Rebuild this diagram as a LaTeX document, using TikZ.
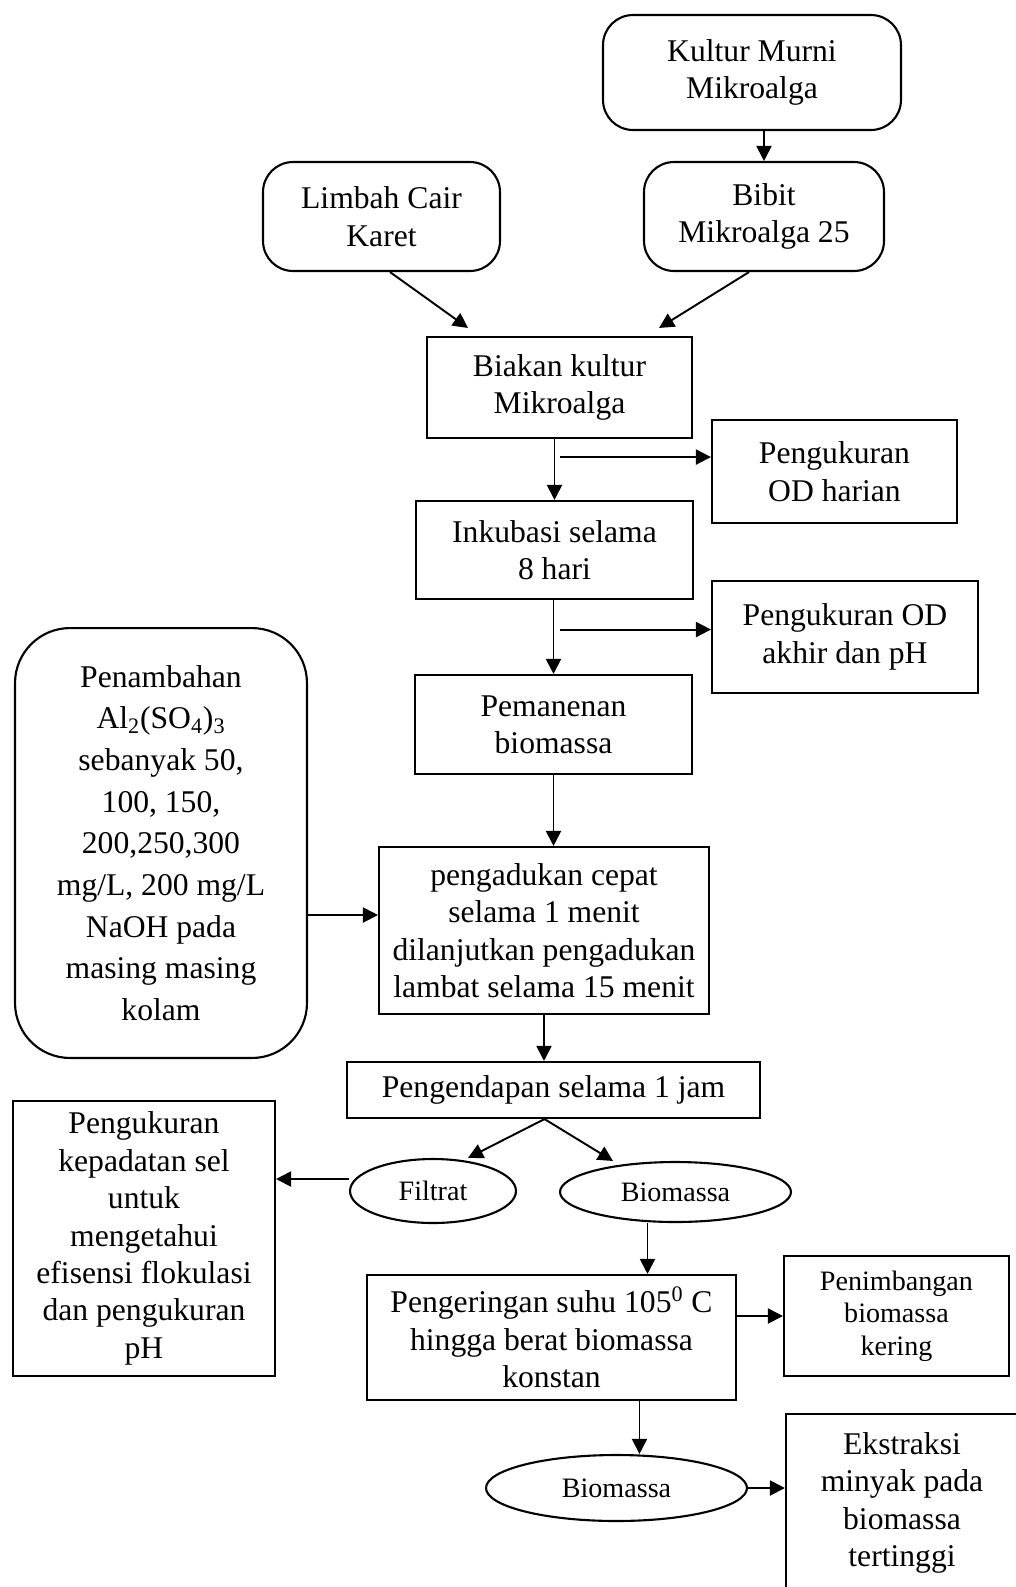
\documentclass[tikz,border=0pt]{standalone}
\usepackage{fontspec}
\setmainfont{Liberation Serif}
\usetikzlibrary{shapes.geometric, arrows.meta, positioning, calc}

\begin{document}
\begin{tikzpicture}[
    x=0.02cm, y=-0.02cm,
    proc/.style={draw, line width=1.2pt, align=center, inner sep=2pt, font=\fontsize{18}{21.3}\selectfont},
    source/.style={proc, rounded corners=0.6cm},
    oval/.style={draw, ellipse, line width=1.2pt, inner sep=0pt, font=\fontsize{16}{19}\selectfont},
    arrow/.style={-{Triangle[length=0.3cm, width=0.3cm]}, line width=1.1pt}
]
    \useasboundingbox (0,0) rectangle (1016,1587);

    % Sources
    \node[source, minimum width=5.96cm, minimum height=2.3cm] (kultur) at (752,72.5) {Kultur Murni\\Mikroalga};
    \node[source, minimum width=4.74cm, minimum height=2.18cm] (limbah) at (381.5,216.5) {Limbah Cair\\Karet};
    \node[source, minimum width=4.8cm, minimum height=2.18cm] (bibit) at (764,216.5) {Bibit\\Mikroalga 25};

    % Cultivation steps
    \node[proc, minimum width=5.3cm, minimum height=2.02cm] (biakan) at (559.5,387.5) {Biakan kultur\\Mikroalga};
    \node[proc, minimum width=4.9cm, minimum height=2.06cm] (odharian) at (834.5,471.5) {Pengukuran\\OD harian};
    \node[proc, minimum width=5.54cm, minimum height=1.96cm] (inkubasi) at (554.5,550) {Inkubasi selama\\8 hari};
    \node[proc, minimum width=5.32cm, minimum height=2.24cm] (odakhir) at (845,637) {Pengukuran OD\\akhir dan pH};
    \node[proc, minimum width=5.54cm, minimum height=1.98cm] (panen) at (553.5,724.5) {Pemanenan\\biomassa};

    % Flocculation
    \node[proc, minimum width=6.6cm, minimum height=3.34cm] (aduk) at (544,930.5) {pengadukan cepat\\selama 1 menit\\dilanjutkan pengadukan\\lambat selama 15 menit};
    \node[source, rounded corners=1.1cm, minimum width=5.84cm, minimum height=8.6cm, font=\fontsize{18}{23.7}\selectfont] (koagulan) at (161,843) {Penambahan\\Al\textsubscript{2}(SO\textsubscript{4})\textsubscript{3}\\sebanyak 50,\\100, 150,\\200,250,300\\mg/L, 200 mg/L\\NaOH pada\\masing masing\\kolam};
    \node[proc, minimum width=8.26cm, minimum height=1.12cm] (endap) at (553.5,1090) {Pengendapan selama 1 jam};

    % Separation
    \node[oval, minimum width=3.32cm, minimum height=1.28cm] (filtrat) at (433,1191) {Filtrat};
    \node[oval, minimum width=4.62cm, minimum height=1.2cm] (biomassa) at (675.5,1192) {Biomassa};
    \node[proc, minimum width=5.24cm, minimum height=5.5cm] (kepadatan) at (144,1238.5) {Pengukuran\\kepadatan sel\\untuk\\mengetahui\\efisensi flokulasi\\dan pengukuran\\pH};

    % Drying and extraction
    \node[proc, minimum width=7.38cm, minimum height=2.5cm] (kering) at (551.5,1337.5) {Pengeringan suhu 105\textsuperscript{0} C\\hingga berat biomassa\\konstan};
    \node[proc, minimum width=4.5cm, minimum height=2.4cm, font=\fontsize{16}{18.5}\selectfont] (timbang) at (896.5,1316) {Penimbangan\\biomassa\\kering};
    \node[oval, minimum width=5.22cm, minimum height=1.32cm] (biomassa2) at (616.5,1488) {Biomassa};
    \node[proc, minimum width=4.64cm, minimum height=3.56cm] (ekstraksi) at (902,1503) {Ekstraksi\\minyak pada\\biomassa\\tertinggi};

    % Connections
    \draw[arrow] (kultur.south -| bibit.north) -- (bibit.north);
    \draw[arrow] ([xshift=0.17cm]limbah.south) -- ([xshift=0.84cm, yshift=0.16cm]biakan.north west);
    \draw[arrow] ([xshift=-0.3cm]bibit.south) -- ([xshift=-0.68cm, yshift=0.16cm]biakan.north east);
    \draw[arrow] (biakan.south -| inkubasi.north) -- (inkubasi.north);
    \coordinate (b1) at ([yshift=-0.36cm]biakan.south);
    \draw[arrow] (b1) -- (b1 -| odharian.west);
    \draw[arrow] (inkubasi.south -| panen.north) -- (panen.north);
    \coordinate (b2) at ([xshift=0.1cm, yshift=-0.59cm]inkubasi.south);
    \draw[arrow] (b2) -- (b2 -| odakhir.west);
    \draw[arrow] (panen.south) -- (panen.south |- aduk.north);
    \coordinate (p1) at ([yshift=0.31cm]aduk.west);
    \draw[arrow] (p1 -| koagulan.east) -- (p1);
    \draw[arrow] (aduk.south) -- (aduk.south |- endap.north);
    \coordinate (split) at ([xshift=-0.18cm]endap.south);
    \draw[arrow] (split) -- ([xshift=0.7cm]filtrat.north);
    \draw[arrow] (split) -- ([xshift=-1.25cm]biomassa.north);
    \coordinate (f1) at ([yshift=0.24cm]filtrat.west);
    \draw[arrow] (f1) -- (f1 -| kepadatan.east);
    \coordinate (m1) at ([xshift=-0.56cm]biomassa.south);
    \draw[arrow] (m1) -- (m1 |- kering.north);
    \draw[arrow] (timbang.west -| kering.east) -- (timbang.west);
    \coordinate (k1) at ([xshift=1.76cm]kering.south);
    \draw[arrow] (k1) -- (k1 |- biomassa2.north);
    \draw[arrow] (biomassa2.east) -- (biomassa2.east -| ekstraksi.west);
\end{tikzpicture}
\end{document}
